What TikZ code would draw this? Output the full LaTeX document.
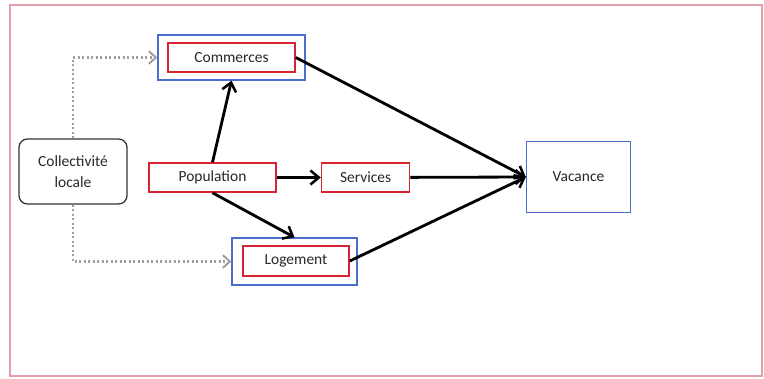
\documentclass[tikz,border=0pt]{standalone}
\usepackage{fontspec}
\setmainfont{Carlito}
\usepackage{xcolor}
\usepackage{tikz}
\usetikzlibrary{shapes.geometric, arrows.meta, positioning}
\definecolor{boxred}{RGB}{215,35,50}
\definecolor{boxblue}{RGB}{75,110,205}
\definecolor{framepink}{RGB}{225,160,170}
\definecolor{textgray}{RGB}{40,40,40}
\tikzstyle{inner} = [rectangle, minimum height=0.725cm, text centered, draw=boxred, line width=1.1pt, fill=white, text=textgray, font=\fontsize{11}{13}\selectfont]
\tikzstyle{outer} = [rectangle, draw=boxblue, line width=0.9pt]
\tikzstyle{actor} = [rectangle, rounded corners=6pt, minimum width=2.7cm, minimum height=1.625cm, text centered, align=center, draw=black!80, line width=0.9pt, text=textgray, font=\fontsize{11}{15}\selectfont]
\tikzstyle{target} = [rectangle, minimum width=2.6cm, minimum height=1.775cm, text centered, draw=boxblue, line width=0.9pt, text=textgray, font=\fontsize{11}{13}\selectfont]
\tikzstyle{arrow} = [line width=2pt, -{Straight Barb[length=6pt, width=10pt, line width=1.8pt]}]
\tikzstyle{dotarrow} = [line width=1.8pt, dash pattern=on 1.6pt off 1.6pt, draw=gray!75, -{Straight Barb[length=5pt, width=9pt, line width=1.4pt]}]

\begin{document}
\begin{tikzpicture}[x=0.025cm, y=-0.025cm]
			
			\useasboundingbox (0,0) rectangle (764,378);
			\draw [framepink, line width=0.8pt] (10,5) rectangle (762,376);
			
			\node (commerces_frame) [outer, minimum width=3.675cm, minimum height=1.125cm] at (231.5,57.5) {};
			\node (commerces) [inner, minimum width=3.175cm] at (231.5,57.5) {Commerces};
			
			\node (collectivite) [actor] at (73,171.5) {Collectivité\\ locale};
			
			\node (population) [inner, minimum width=3.175cm] at (212.5,177.5) {Population};
			
			\node (services) [inner, minimum width=2.2cm, right=1.1cm of population] {Services};
			
			\node (vacance) [target] at (578.5,177) {Vacance};
			
			\node (logement_frame) [outer, minimum width=3.125cm, minimum height=1.175cm] at (294.5,261.5) {};
			\node (logement) [inner, minimum width=2.65cm, minimum height=0.75cm] at (296,261) {Logement};
			
			
			\draw [arrow] (population.north) -- (commerces_frame.south);
			\draw [arrow] (population) -- (services);
			\draw [arrow] (population.south) -- (logement_frame.north);
			\draw [arrow] (commerces.east) -- (vacance.west);
			\draw [arrow] (services) -- (vacance.west);
			\draw [arrow] (logement.east) -- (vacance.west);
			
			\draw [dotarrow] (collectivite.north) |- (commerces_frame.west);
			\draw [dotarrow] (collectivite.south) |- (logement_frame.west);
			
		\end{tikzpicture}
\end{document}
